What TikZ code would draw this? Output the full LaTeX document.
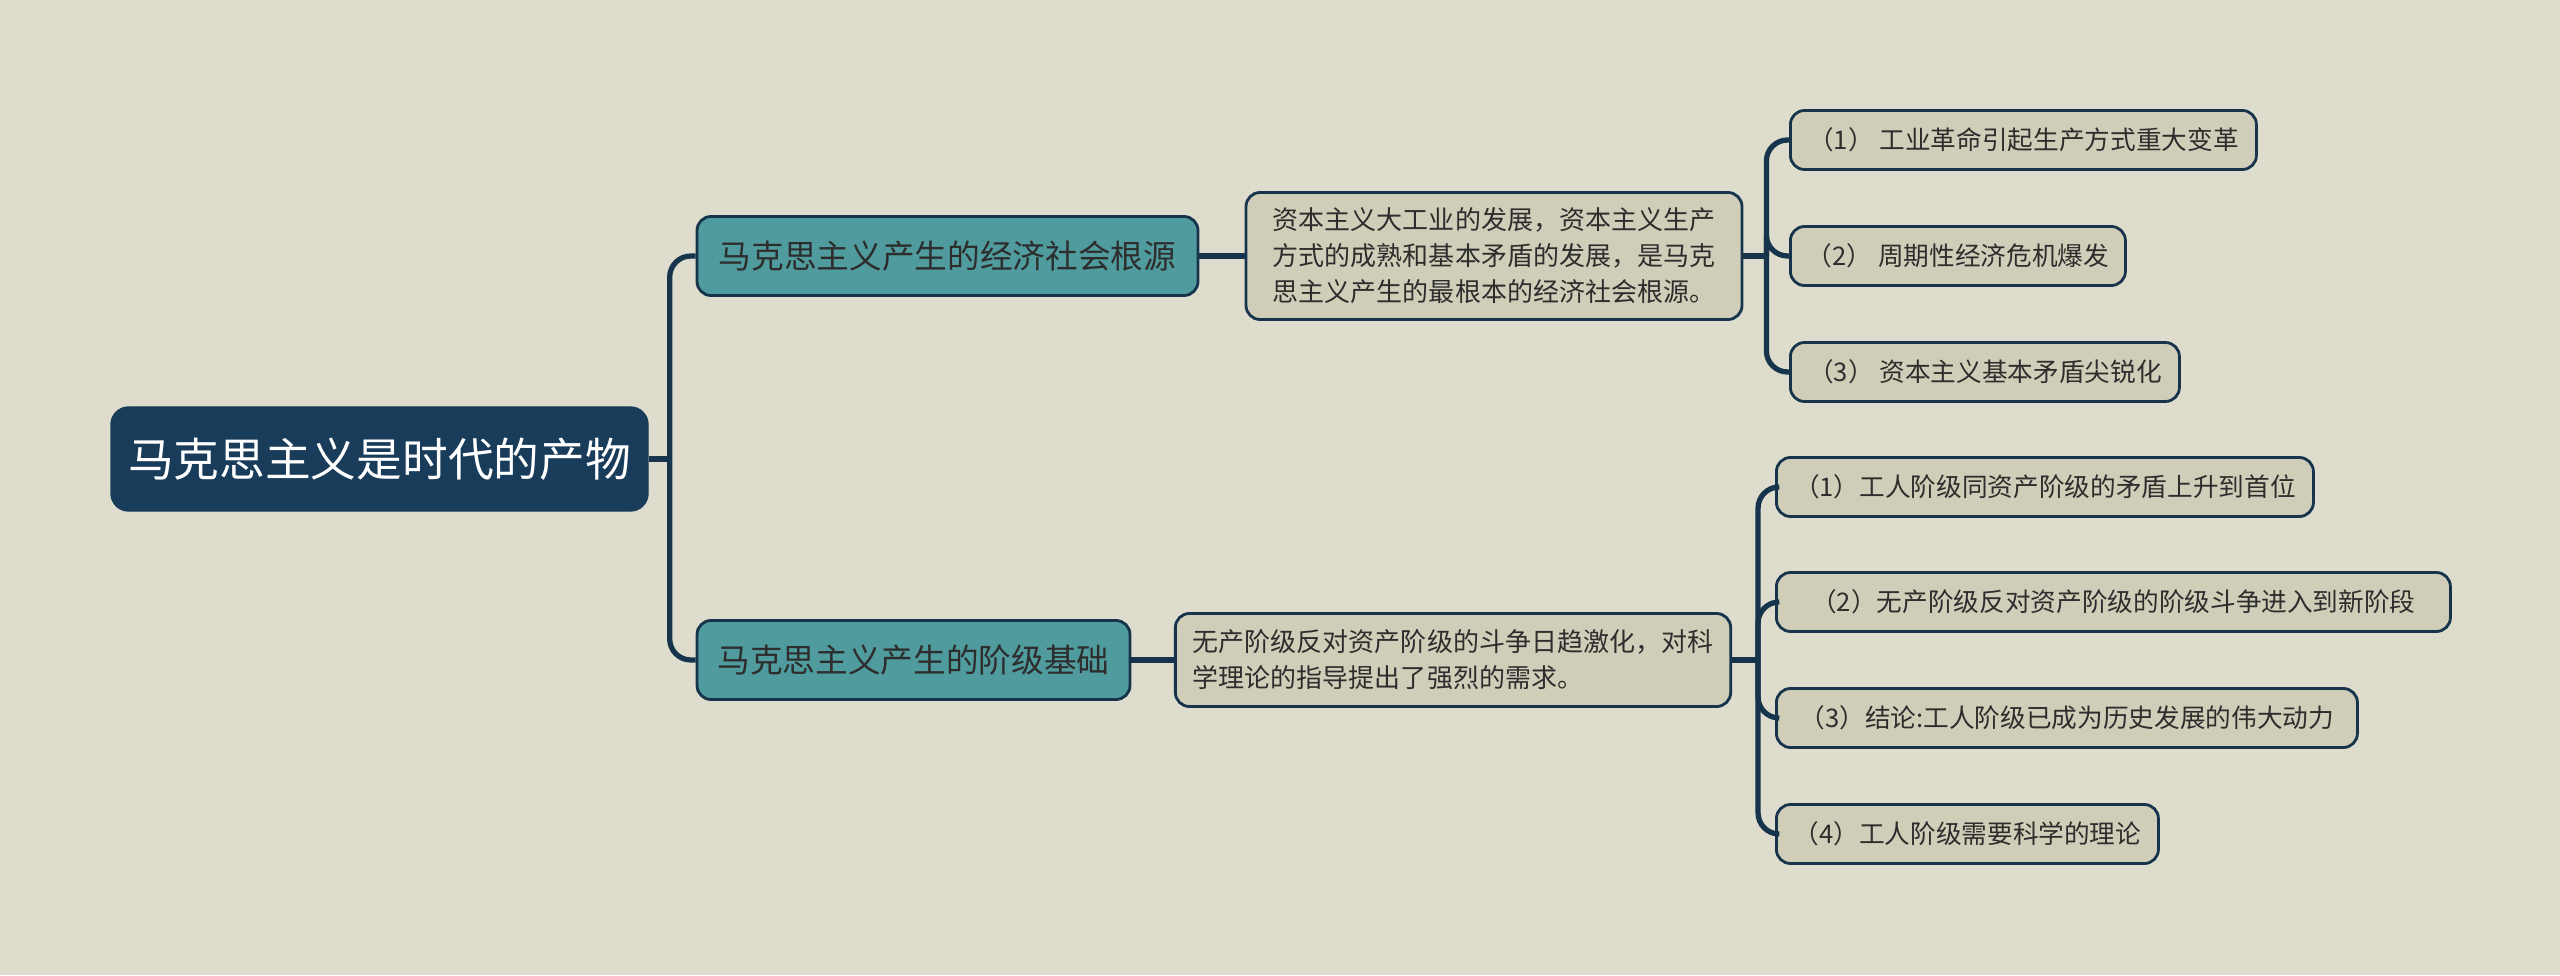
\documentclass[tikz,border=0pt]{standalone}
\usepackage{fontspec}
\setmainfont{Noto Sans CJK SC}
\usetikzlibrary{positioning}
\definecolor{bgcol}{RGB}{222,221,205}
\definecolor{navy}{RGB}{24,60,90}
\definecolor{edge}{RGB}{22,52,76}
\definecolor{teal}{RGB}{80,155,157}
\definecolor{sand}{RGB}{208,206,185}
\definecolor{ink}{RGB}{45,45,45}
\tikzset{
  rootbox/.style={rectangle,rounded corners=5pt,fill=navy,draw=navy,
    minimum width=5.37cm,minimum height=1.04cm,align=center,inner sep=3pt,
    text=white,font=\fontsize{13}{16}\selectfont},
  branchbox/.style={rectangle,rounded corners=4pt,fill=teal,draw=edge,line width=0.8pt,
    minimum height=0.79cm,align=center,inner sep=3pt,
    text=ink,font=\fontsize{9.3}{12}\selectfont},
  descbox/.style={rectangle,rounded corners=4pt,fill=sand,draw=edge,line width=0.8pt,
    align=left,inner xsep=5pt,inner ysep=4pt,
    text=ink,font=\fontsize{7.4}{10.2}\selectfont},
  leafbox/.style={rectangle,rounded corners=4pt,fill=sand,draw=edge,line width=0.8pt,
    minimum height=0.59cm,align=center,inner sep=3pt,anchor=west,
    text=ink,font=\fontsize{7.3}{10}\selectfont},
  link/.style={draw=edge,line width=1.5pt,rounded corners=6pt}
}
\begin{document}
\begin{tikzpicture}
  \fill[bgcol] (0,0) rectangle (25.6,9.75);
  \useasboundingbox (0,0) rectangle (25.6,9.75);
  % main topic and its two branches
  \node[rootbox] (root) at (3.795,5.16) {马克思主义是时代的产物};
  \node[branchbox,minimum width=5.01cm] (econ) at (9.475,7.19) {马克思主义产生的经济社会根源};
  \node[branchbox,minimum width=4.33cm] (cls) at (9.135,3.15) {马克思主义产生的阶级基础};
  % explanations
  \node[descbox,minimum width=4.96cm,minimum height=1.27cm] (econd) at (14.94,7.19)
    {资本主义大工业的发展，资本主义生产\\方式的成熟和基本矛盾的发展，是马克\\思主义产生的最根本的经济社会根源。};
  \node[descbox,minimum width=5.46cm,minimum height=0.93cm] (clsd) at (14.53,3.15)
    {无产阶级反对资产阶级的斗争日趋激化，对科\\学理论的指导提出了强烈的需求。};
  % details, economic side
  \node[leafbox,minimum width=4.66cm] (e1) at (17.89,8.35) {（1） 工业革命引起生产方式重大变革};
  \node[leafbox,minimum width=3.35cm] (e2) at (17.89,7.19) {（2） 周期性经济危机爆发};
  \node[leafbox,minimum width=3.89cm] (e3) at (17.89,6.03) {（3） 资本主义基本矛盾尖锐化};
  % details, class side
  \node[leafbox,minimum width=5.37cm] (c1) at (17.75,4.88) {（1）工人阶级同资产阶级的矛盾上升到首位};
  \node[leafbox,minimum width=6.74cm] (c2) at (17.75,3.73) {（2）无产阶级反对资产阶级的阶级斗争进入到新阶段};
  \node[leafbox,minimum width=5.81cm] (c3) at (17.75,2.57) {（3）结论:工人阶级已成为历史发展的伟大动力};
  \node[leafbox,minimum width=3.82cm] (c4) at (17.75,1.41) {（4）工人阶级需要科学的理论};
  % connectors
  \draw[link] (root.east) -- ++(0.21,0) coordinate (rj);
  \foreach \b in {econ,cls}
    \draw[link] (rj) |- (\b.west);
  \draw[link] (econ.east) -- (econd.west);
  \draw[link] (cls.east) -- (clsd.west);
  \draw[link] (econd.east) -- ++(0.23,0) coordinate (ej);
  \foreach \l in {e1,e2,e3}
    \draw[link] (ej) |- (\l.west);
  \draw[link] (clsd.east) -- ++(0.26,0) coordinate (cj);
  \foreach \l in {c1,c2,c3,c4}
    \draw[link] (cj) |- (\l.west);
\end{tikzpicture}
\end{document}
